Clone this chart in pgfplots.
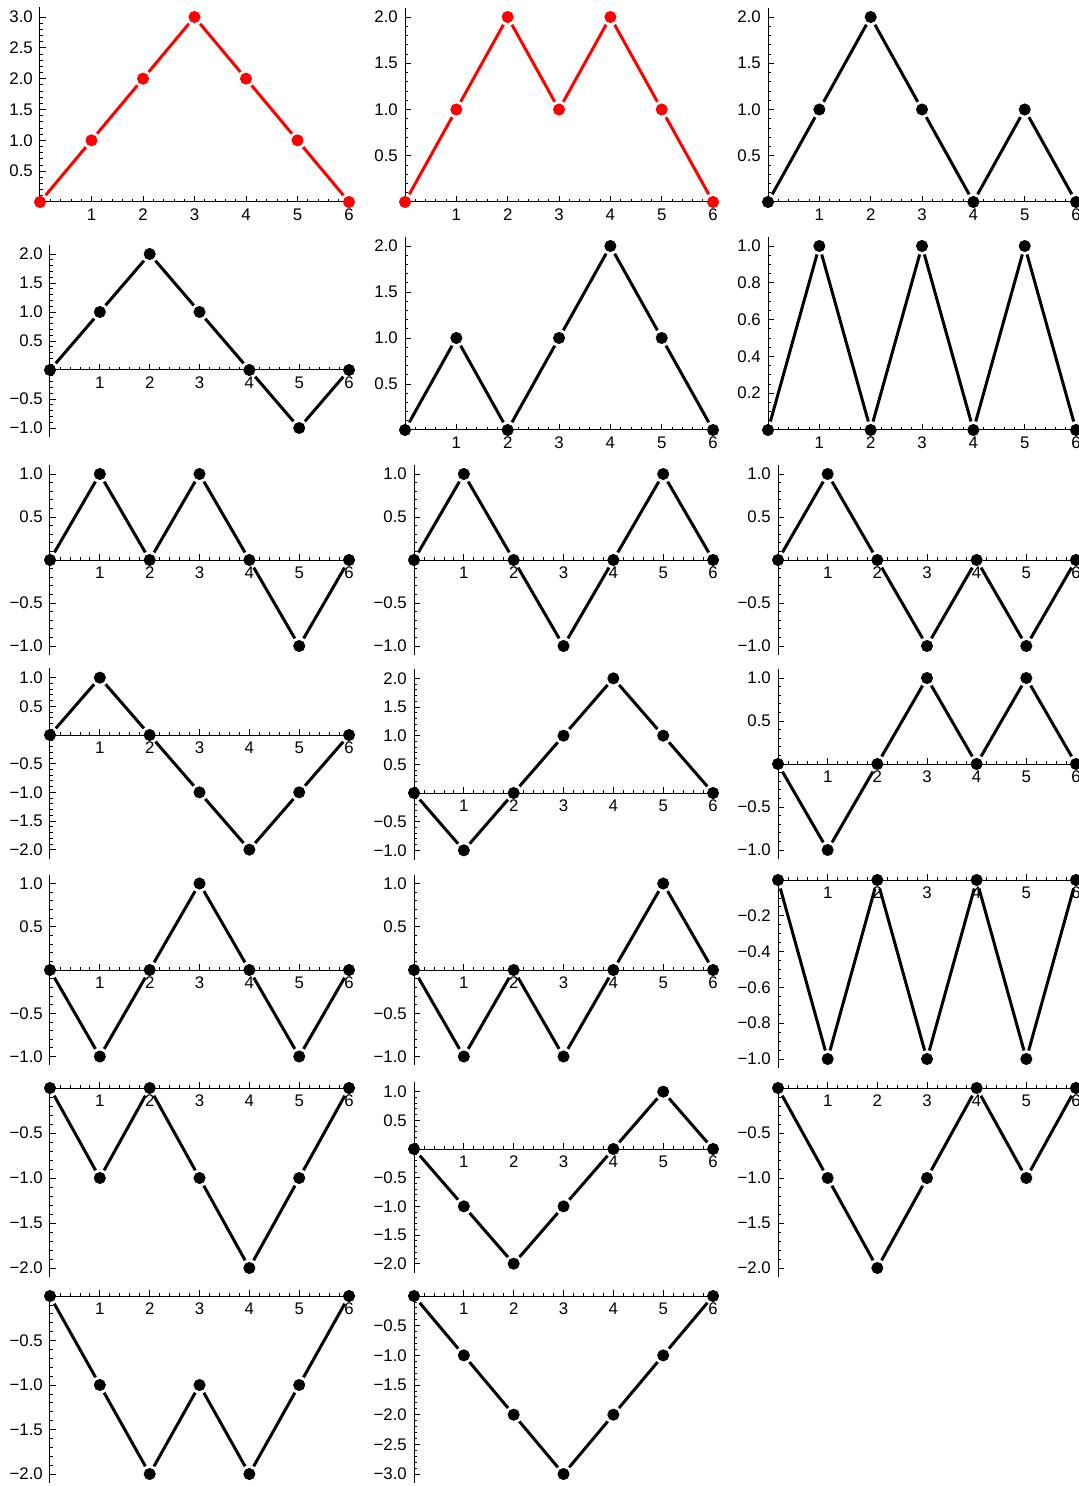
\documentclass[border=0pt]{standalone}
\usepackage{fontspec}
\setmainfont{Liberation Sans}
\usepackage{pgfplots}
\usepackage{pgfplotstable}
\pgfplotsset{compat=1.18}
\pgfplotstableread{
x p1 p2 p3 p4 p5 p6 p7 p8 p9 p10 p11 p12 p13 p14 p15 p16 p17 p18 p19 p20
0 0 0 0 0 0 0 0 0 0 0 0 0 0 0 0 0 0 0 0 0
1 1 1 1 1 1 1 1 1 1 1 -1 -1 -1 -1 -1 -1 -1 -1 -1 -1
2 2 2 2 2 0 0 0 0 0 0 0 0 0 0 0 0 -2 -2 -2 -2
3 3 1 1 1 1 1 1 -1 -1 -1 1 1 1 -1 -1 -1 -1 -1 -1 -3
4 2 2 0 0 2 0 0 0 0 -2 2 0 0 0 0 -2 0 0 -2 -2
5 1 1 1 -1 1 1 -1 1 -1 -1 1 1 -1 1 -1 -1 1 -1 -1 -1
6 0 0 0 0 0 0 0 0 0 0 0 0 0 0 0 0 0 0 0 0
}\paths
\pgfplotsset{
  pan/.style={
    axis on top,
    axis lines=middle,
    axis line style={-, line width=0.5pt, black},
    anchor=origin,
    clip=false,
    xmin=0, xmax=6.06,
    xtick={0,1,2,3,4,5,6},
    xticklabels={,1,2,3,4,5,6},
    minor x tick num=4,
    minor y tick num=4,
    tick align=inside,
    major tick length=3pt,
    minor tick length=1.6pt,
    every tick/.style={black, line width=0.4pt},
    ticklabel style={font=\fontsize{8.4}{9}\selectfont, text=black},
    xticklabel style={inner sep=1.2pt, yshift=-2pt},
    yticklabel style={inner sep=1.6pt, xshift=-1.8pt},
  },
  pan2/.style={minor y tick num=3},
  seg/.style={line width=1.5pt, #1, no markers, shorten <=4.4pt, shorten >=4.4pt},
  mk/.style={only marks, mark=*, mark size=2.8pt, #1, mark options={#1}},
}
\newcommand{\pth}[2]{%
  \pgfplotsinvokeforeach{0:1,1:2,2:3,3:4,4:5,5:6}{%
    \addplot[seg=#2, restrict x to domain=##1] table[x=x, y=#1]{\paths};
  }
  \addplot[mk=#2] table[x=x, y=#1]{\paths};
}
\begin{document}
\begin{tikzpicture}
\useasboundingbox (0,0) rectangle (539pt,-743pt);
% Row 1
\begin{axis}[pan, at={(20pt,-101pt)}, x=25.75pt, y=30.83pt, ymin=0, ymax=3.16,
  ytick={0,0.5,1,1.5,2,2.5,3}, yticklabels={,0.5,1.0,1.5,2.0,2.5,3.0}]
\pth{p1}{red}
\end{axis}
\begin{axis}[pan, at={(202.5pt,-101pt)}, x=25.67pt, y=46.25pt, ymin=0, ymax=2.1,
  ytick={0,0.5,1,1.5,2}, yticklabels={,0.5,1.0,1.5,2.0}]
\pth{p2}{red}
\end{axis}
\begin{axis}[pan, at={(384pt,-101pt)}, x=25.67pt, y=46.25pt, ymin=0, ymax=2.1,
  ytick={0,0.5,1,1.5,2}, yticklabels={,0.5,1.0,1.5,2.0}]
\pth{p3}{black}
\end{axis}
% Row 2
\begin{axis}[pan, at={(25pt,-185pt)}, x=24.92pt, y=29pt, ymin=-1.16, ymax=2.16,
  ytick={-1,-0.5,0,0.5,1,1.5,2}, yticklabels={−1.0,−0.5,,0.5,1.0,1.5,2.0}]
\pth{p4}{black}
\end{axis}
\begin{axis}[pan, at={(202.5pt,-215pt)}, x=25.67pt, y=46pt, ymin=0, ymax=2.1,
  ytick={0,0.5,1,1.5,2}, yticklabels={,0.5,1.0,1.5,2.0}]
\pth{p5}{black}
\end{axis}
\begin{axis}[pan, pan2, at={(384pt,-215pt)}, x=25.67pt, y=92pt, ymin=0, ymax=1.05,
  ytick={0,0.2,0.4,0.6,0.8,1}, yticklabels={,0.2,0.4,0.6,0.8,1.0}]
\pth{p6}{black}
\end{axis}
% Row 3
\begin{axis}[pan, at={(25pt,-280pt)}, x=24.92pt, y=43pt, ymin=-1.1, ymax=1.1,
  ytick={-1,-0.5,0,0.5,1}, yticklabels={−1.0,−0.5,,0.5,1.0}]
\pth{p7}{black}
\end{axis}
\begin{axis}[pan, at={(207pt,-280pt)}, x=24.92pt, y=43pt, ymin=-1.1, ymax=1.1,
  ytick={-1,-0.5,0,0.5,1}, yticklabels={−1.0,−0.5,,0.5,1.0}]
\pth{p8}{black}
\end{axis}
\begin{axis}[pan, at={(389pt,-280pt)}, x=24.83pt, y=43pt, ymin=-1.1, ymax=1.1,
  ytick={-1,-0.5,0,0.5,1}, yticklabels={−1.0,−0.5,,0.5,1.0}]
\pth{p9}{black}
\end{axis}
% Row 4
\begin{axis}[pan, at={(25pt,-367.5pt)}, x=24.92pt, y=28.67pt, ymin=-2.16, ymax=1.16,
  ytick={-2,-1.5,-1,-0.5,0,0.5,1}, yticklabels={−2.0,−1.5,−1.0,−0.5,,0.5,1.0}]
\pth{p10}{black}
\end{axis}
\begin{axis}[pan, at={(207pt,-396.5pt)}, x=24.92pt, y=28.67pt, ymin=-1.16, ymax=2.16,
  ytick={-1,-0.5,0,0.5,1,1.5,2}, yticklabels={−1.0,−0.5,,0.5,1.0,1.5,2.0}]
\pth{p11}{black}
\end{axis}
\begin{axis}[pan, at={(389pt,-382pt)}, x=24.83pt, y=43pt, ymin=-1.1, ymax=1.1,
  ytick={-1,-0.5,0,0.5,1}, yticklabels={−1.0,−0.5,,0.5,1.0}]
\pth{p12}{black}
\end{axis}
% Row 5
\begin{axis}[pan, at={(25pt,-485pt)}, x=24.92pt, y=43.25pt, ymin=-1.1, ymax=1.1,
  ytick={-1,-0.5,0,0.5,1}, yticklabels={−1.0,−0.5,,0.5,1.0}]
\pth{p13}{black}
\end{axis}
\begin{axis}[pan, at={(207pt,-485pt)}, x=24.92pt, y=43.25pt, ymin=-1.1, ymax=1.1,
  ytick={-1,-0.5,0,0.5,1}, yticklabels={−1.0,−0.5,,0.5,1.0}]
\pth{p14}{black}
\end{axis}
\begin{axis}[pan, pan2, at={(389pt,-440pt)}, x=24.83pt, y=89.5pt, ymin=-1.05, ymax=0,
  ytick={-1,-0.8,-0.6,-0.4,-0.2,0}, yticklabels={−1.0,−0.8,−0.6,−0.4,−0.2,}]
\pth{p15}{black}
\end{axis}
% Row 6
\begin{axis}[pan, at={(25pt,-544pt)}, x=24.92pt, y=45pt, ymin=-2.1, ymax=0,
  ytick={-2,-1.5,-1,-0.5,0}, yticklabels={−2.0,−1.5,−1.0,−0.5,}]
\pth{p16}{black}
\end{axis}
\begin{axis}[pan, at={(207pt,-574.5pt)}, x=24.92pt, y=28.67pt, ymin=-2.16, ymax=1.16,
  ytick={-2,-1.5,-1,-0.5,0,0.5,1}, yticklabels={−2.0,−1.5,−1.0,−0.5,,0.5,1.0}]
\pth{p17}{black}
\end{axis}
\begin{axis}[pan, at={(389pt,-544pt)}, x=24.83pt, y=45pt, ymin=-2.1, ymax=0,
  ytick={-2,-1.5,-1,-0.5,0}, yticklabels={−2.0,−1.5,−1.0,−0.5,}]
\pth{p18}{black}
\end{axis}
% Row 7
\begin{axis}[pan, at={(25pt,-648pt)}, x=24.92pt, y=44.5pt, ymin=-2.1, ymax=0,
  ytick={-2,-1.5,-1,-0.5,0}, yticklabels={−2.0,−1.5,−1.0,−0.5,}]
\pth{p19}{black}
\end{axis}
\begin{axis}[pan, at={(207pt,-648pt)}, x=24.92pt, y=29.67pt, ymin=-3.15, ymax=0,
  ytick={-3,-2.5,-2,-1.5,-1,-0.5,0}, yticklabels={−3.0,−2.5,−2.0,−1.5,−1.0,−0.5,}]
\pth{p20}{black}
\end{axis}
\end{tikzpicture}
\end{document}
